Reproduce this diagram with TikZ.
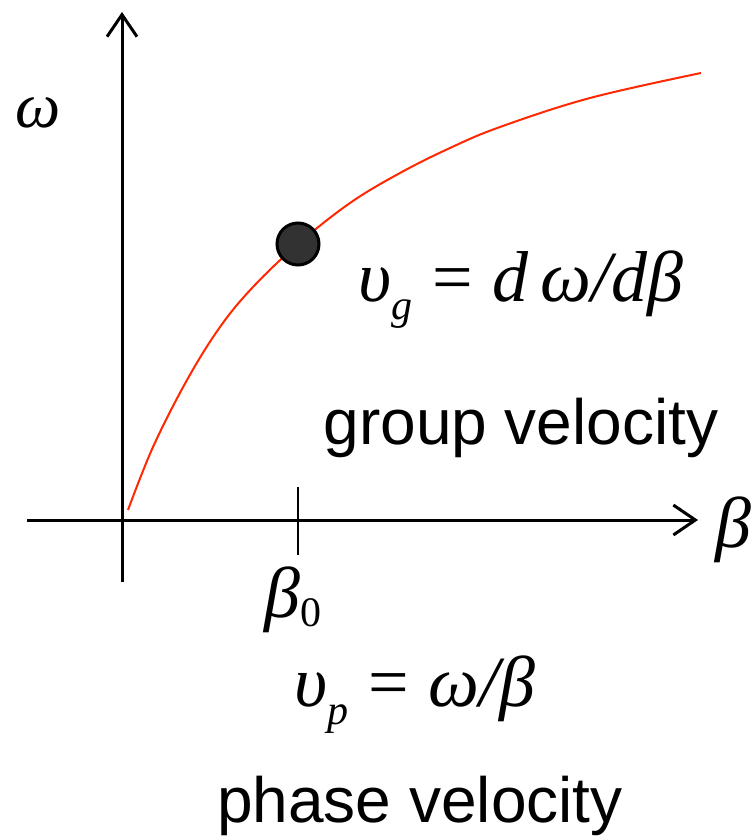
\documentclass[tikz,border=0pt]{standalone}
\usepackage{fontspec}
\setmainfont{Liberation Sans}
\newfontfamily\greekfont{Liberation Serif}
\usetikzlibrary{arrows.meta}
\definecolor{curvered}{RGB}{255,40,0}
\definecolor{dotgray}{RGB}{50,50,50}
\newcommand{\gk}[1]{{\greekfont\itshape #1}}
\newcommand{\lowsub}[2][-0.25em]{\raisebox{#1}{\fontsize{21}{23}\selectfont\greekfont\itshape #2}}

\begin{document}
\begin{tikzpicture}[
            x=0.5pt, y=-0.5pt,
            axis/.style={line width=1.5pt, -{Straight Barb[length=11pt, width=15pt, line width=1.5pt]}},
            tickline/.style={line width=1.2pt},
            curve/.style={curvered, line width=1pt},
            label/.style={inner sep=0pt, font=\fontsize{32}{38}\selectfont},
            mathlabel/.style={inner sep=0pt, font=\fontsize{36}{42}\selectfont},
            dot/.style={circle, draw=black, line width=1.5pt, fill=dotgray, minimum size=21pt, inner sep=0pt}
        ]
            \useasboundingbox (0,0) rectangle (752,840);

            % axes
            \coordinate (ybot) at (122,582);
            \coordinate (ytop) at (122,12);
            \coordinate (xleft) at (27,520);
            \coordinate (xright) at (698,520);
            \draw[axis] (ybot) -- (ytop);
            \draw[axis] (xleft) -- (xright);

            % tick at beta_0
            \coordinate (tup) at (298,487);
            \coordinate (tdown) at (298,555);
            \draw[tickline] (tup) -- (tdown);

            % dispersion curve
            \draw[curve] plot[smooth, tension=0.6] coordinates {(128,510) (153,447) (187,380) (220,327) (253,287) (298,244) (350,203) (400,173) (450,148) (500,127) (590,98) (701,73)};
            \node[dot] (op) at (298,244) {};

            % labels
            \node[label] (omega) at (38,113) {\gk{ω}};
            \node[mathlabel] (beta) at (733,530) {\gk{β}};
            \node[mathlabel] (beta0) at (293,600) {\gk{β}\lowsub[-0.12em]{\upshape 0}};
            \node[mathlabel] (vg) at (521,290) {\gk{υ}\lowsub{g} {\greekfont =} \gk{d\,ω/dβ}};
            \node[label] (group) at (521,428) {group velocity};
            \node[mathlabel] (vp) at (415,695) {\gk{υ}\lowsub{p} {\greekfont =} \gk{ω/β}};
            \node[label] (phase) at (420,806) {phase velocity};
        \end{tikzpicture}
\end{document}
